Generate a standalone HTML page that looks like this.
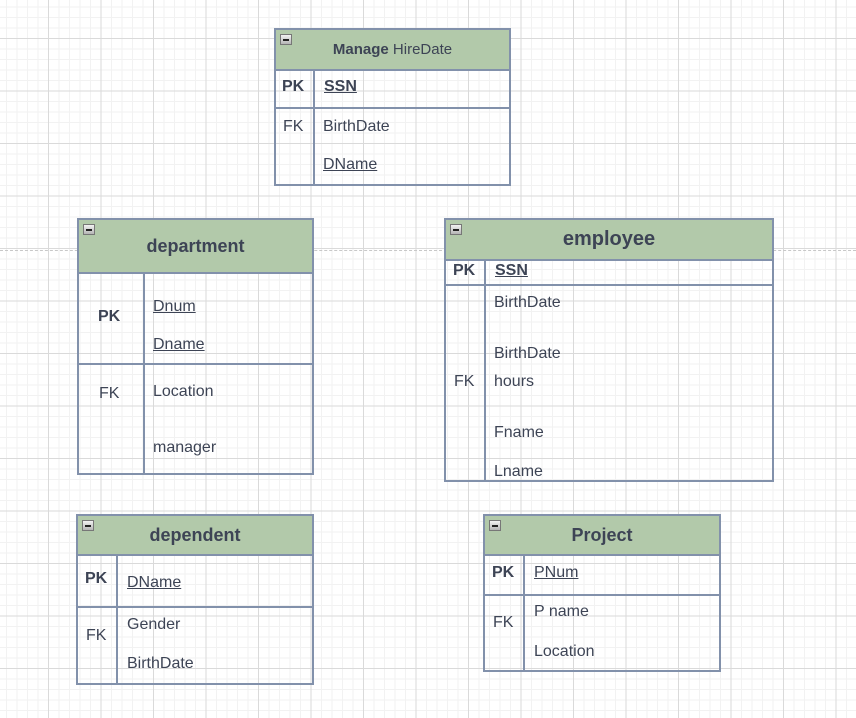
<!DOCTYPE html>
<html><head><meta charset="utf-8"><style>
body{margin:0;width:856px;height:718px;overflow:hidden;position:relative;background:#fff;
background-image:
linear-gradient(90deg,#dadada 1px,transparent 1px),
linear-gradient(0deg,#dadada 1px,transparent 1px),
linear-gradient(90deg,#f2f2f2 1px,transparent 1px),
linear-gradient(0deg,#f2f2f2 1px,transparent 1px);
background-size:52.5px 52.5px,52.5px 52.5px,10.5px 10.5px,10.5px 10.5px;
background-position:48px 39px,48px 39px,48px 39px,48px 39px;
font-family:"Liberation Sans",Arial,sans-serif;color:#333d4e}
.b{position:absolute;border:2px solid #8291ab;box-sizing:border-box}
.h{position:absolute;background:#b2c9aa;border-bottom:2px solid #8291ab;box-sizing:border-box;left:0;right:0;top:0;text-align:center;font-weight:bold;color:#3d4455}
.l{position:absolute;background:#8291ab}
.t{position:absolute;font-size:16px;white-space:nowrap;color:#3d4455}
.u{text-decoration:underline}
.k{font-weight:bold}
.m{position:absolute;left:4px;top:4px;width:10px;height:9px;border:1px solid #777;background:linear-gradient(#f2f2f2,#b5b5b5)}
.m:after{content:"";position:absolute;left:2px;right:2px;top:4px;height:2px;background:#222}
.dash{position:absolute;left:0;right:0;top:250px;border-top:1px dashed #c8c8c8}
</style></head><body>
<div class="dash"></div>

<!-- Manage -->
<div class="b" style="left:274px;top:28px;width:237px;height:158px">
<div class="h" style="height:41px;line-height:39px;font-size:15px"><b>Manage</b> <span style="font-weight:normal">HireDate</span><div class="m"></div></div>
<div class="l" style="left:0;right:0;top:77px;height:2px"></div>
<div class="l" style="left:37px;top:39px;bottom:0;width:2px"></div>
</div>
<div class="t k" style="left:282px;top:78px">PK</div>
<div class="t k u" style="left:324px;top:78px">SSN</div>
<div class="t" style="left:283px;top:118px">FK</div>
<div class="t" style="left:323px;top:118px">BirthDate</div>
<div class="t u" style="left:323px;top:156px">DName</div>

<!-- department -->
<div class="b" style="left:77px;top:218px;width:237px;height:257px">
<div class="h" style="height:54px;line-height:52px;font-size:18px">department<div class="m"></div></div>
<div class="l" style="left:0;right:0;top:143px;height:2px"></div>
<div class="l" style="left:64px;top:52px;bottom:0;width:2px"></div>
</div>
<div class="t k" style="left:98px;top:308px">PK</div>
<div class="t u" style="left:153px;top:298px">Dnum </div>
<div class="t u" style="left:153px;top:336px">Dname</div>
<div class="t" style="left:99px;top:385px">FK</div>
<div class="t" style="left:153px;top:383px">Location</div>
<div class="t" style="left:153px;top:439px">manager</div>

<!-- employee -->
<div class="b" style="left:444px;top:218px;width:330px;height:264px">
<div class="h" style="height:41px;line-height:39px;font-size:20px">employee<div class="m"></div></div>
<div class="l" style="left:0;right:0;top:64px;height:2px"></div>
<div class="l" style="left:38px;top:39px;bottom:0;width:2px"></div>
</div>
<div class="t k" style="left:453px;top:262px">PK</div>
<div class="t k u" style="left:495px;top:262px">SSN</div>
<div class="t" style="left:494px;top:294px">BirthDate</div>
<div class="t" style="left:494px;top:345px">BirthDate</div>
<div class="t" style="left:454px;top:373px">FK</div>
<div class="t" style="left:494px;top:373px">hours</div>
<div class="t" style="left:494px;top:424px">Fname</div>
<div class="t" style="left:494px;top:463px">Lname</div>

<!-- dependent -->
<div class="b" style="left:76px;top:514px;width:238px;height:171px">
<div class="h" style="height:40px;line-height:38px;font-size:18px">dependent<div class="m"></div></div>
<div class="l" style="left:0;right:0;top:90px;height:2px"></div>
<div class="l" style="left:38px;top:38px;bottom:0;width:2px"></div>
</div>
<div class="t k" style="left:85px;top:570px">PK</div>
<div class="t u" style="left:127px;top:574px">DName</div>
<div class="t" style="left:86px;top:627px">FK</div>
<div class="t" style="left:127px;top:616px">Gender</div>
<div class="t" style="left:127px;top:655px">BirthDate</div>

<!-- Project -->
<div class="b" style="left:483px;top:514px;width:238px;height:158px">
<div class="h" style="height:40px;line-height:38px;font-size:18px">Project<div class="m"></div></div>
<div class="l" style="left:0;right:0;top:78px;height:2px"></div>
<div class="l" style="left:38px;top:38px;bottom:0;width:2px"></div>
</div>
<div class="t k" style="left:492px;top:564px">PK</div>
<div class="t u" style="left:534px;top:564px">PNum</div>
<div class="t" style="left:493px;top:614px">FK</div>
<div class="t" style="left:534px;top:603px">P name</div>
<div class="t" style="left:534px;top:643px">Location</div>
</body></html>
